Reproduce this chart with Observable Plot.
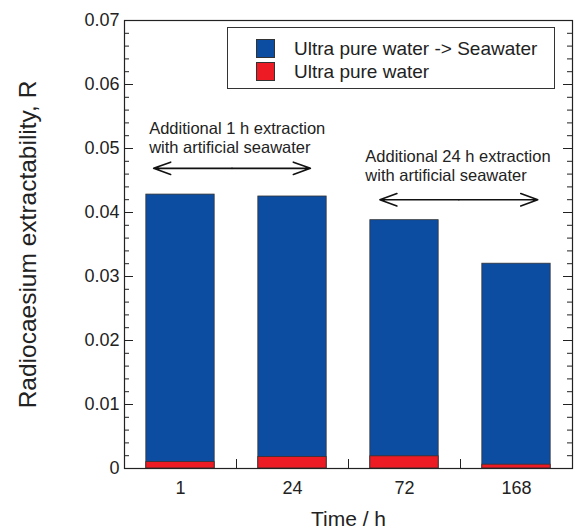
<!DOCTYPE html>
<html>
<head>
<meta charset="utf-8">
<script src="https://cdn.jsdelivr.net/npm/d3@7"></script>
<script src="https://cdn.jsdelivr.net/npm/@observablehq/plot@0.6"></script>
<style>
  html, body { margin: 0; padding: 0; background: #fff; }
  #wrap { position: relative; width: 575px; height: 530px; font-family: "Liberation Sans", Arial, sans-serif; }
  #legend { position: absolute; left: 227px; top: 27px; width: 326px; height: 60px; border: 1px solid #333; background: #fff; box-sizing: content-box; }
  .row { position: absolute; left: 28px; height: 19px; display: flex; align-items: center; font-size: 19px; color: #222; white-space: nowrap; }
  .sw { width: 19px; height: 19px; border: 1px solid #333; box-sizing: border-box; margin-right: 19px; flex: none; }
</style>
</head>
<body>
<div id="wrap"></div>
<script>
const times = ["1", "24", "72", "168"];
const seawaterTotal = [0.0428, 0.0425, 0.0388, 0.0320];   // Ultra pure water -> Seawater
const ultraPure = [0.0010, 0.0018, 0.0019, 0.0006];        // Ultra pure water
const yTickLabels = [0, 0.01, 0.02, 0.03, 0.04, 0.05, 0.06, 0.07];
const seriesNames = ["Ultra pure water -> Seawater", "Ultra pure water"];
const seriesColors = ["#0c4da2", "#ed1c24"];
const notes = [
  {x: 0.72, y: 0.0544, text: "Additional 1 h extraction\nwith artificial seawater"},
  {x: 2.65, y: 0.0500, text: "Additional 24 h extraction\nwith artificial seawater"}
];
const spans = [
  {from: 0.76, to: 2.16, y: 0.0469},
  {from: 2.78, to: 4.19, y: 0.0420}
];

const rows = times.map((t, i) => ({i: i + 1, t, total: seawaterTotal[i], pure: ultraPure[i]}));
const minorTicks = d3.range(0, 0.0701, 0.002);
const halfBar = 0.305;
const font = "Liberation Sans, Arial, sans-serif";

const chart = Plot.plot({
  width: 575,
  height: 530,
  marginLeft: 124,
  marginRight: 3,
  marginTop: 20,
  marginBottom: 62,
  style: {fontFamily: font, color: "#222", background: "#fff", overflow: "visible"},
  x: {domain: [0.5, 4.5]},
  y: {domain: [0, 0.07]},
  marks: [
    Plot.rectY(rows, {x1: d => d.i - halfBar, x2: d => d.i + halfBar, y1: 0, y2: "total", fill: seriesColors[0], stroke: "#333", strokeWidth: 0.8}),
    Plot.rectY(rows, {x1: d => d.i - halfBar, x2: d => d.i + halfBar, y1: 0, y2: "pure", fill: seriesColors[1], stroke: "#333", strokeWidth: 0.8}),
    // minor ticks (left & right, inward)
    Plot.ruleY(minorTicks, {insetRight: 443, stroke: "#222", strokeWidth: 1}),
    Plot.ruleY(minorTicks, {insetLeft: 443, stroke: "#222", strokeWidth: 1}),
    // major ticks
    Plot.ruleY(yTickLabels, {insetRight: 439, stroke: "#222", strokeWidth: 1}),
    Plot.ruleY(yTickLabels, {insetLeft: 439, stroke: "#222", strokeWidth: 1}),
    // bottom separators between categories
    Plot.ruleX([1.5, 2.5, 3.5], {insetTop: 439, stroke: "#222", strokeWidth: 1}),
    Plot.frame({stroke: "#222", strokeWidth: 1.2}),
    Plot.axisY({ticks: yTickLabels, tickSize: 0, tickPadding: 5, fontSize: 18, label: null,
      tickFormat: d => d === 0 ? "0" : d.toFixed(2)}),
    Plot.axisX({ticks: [1, 2, 3, 4], tickSize: 0, tickPadding: 13, fontSize: 18, label: null,
      tickFormat: d => times[d - 1]}),
    Plot.text(["Radiocaesium extractability, R"], {frameAnchor: "left", textAnchor: "middle", rotate: -90, dx: -96, fontSize: 24.5, fill: "#222"}),
    Plot.text(["Time / h"], {frameAnchor: "bottom", dy: 57, fontSize: 21, fill: "#222"}),
    Plot.text(notes, {x: "x", y: "y", text: "text", textAnchor: "start", lineAnchor: "top", lineHeight: 1.15, fontSize: 16.5, fill: "#222"}),
    Plot.arrow(spans, {x1: d => (d.from + d.to) / 2, x2: "from", y1: "y", y2: "y", headLength: 17, headAngle: 40, stroke: "#111", strokeWidth: 1.6}),
    Plot.arrow(spans, {x1: d => (d.from + d.to) / 2, x2: "to", y1: "y", y2: "y", headLength: 17, headAngle: 40, stroke: "#111", strokeWidth: 1.6})
  ]
});

const wrap = document.getElementById("wrap");
wrap.appendChild(chart);
const legend = document.createElement("div");
legend.id = "legend";
seriesNames.forEach((name, k) => {
  const row = document.createElement("div");
  row.className = "row";
  row.style.top = (k === 0 ? 11 : 34) + "px";
  const sw = document.createElement("div");
  sw.className = "sw";
  sw.style.background = seriesColors[k];
  const label = document.createElement("span");
  label.textContent = name;
  row.appendChild(sw);
  row.appendChild(label);
  legend.appendChild(row);
});
wrap.appendChild(legend);
</script>
</body>
</html>
